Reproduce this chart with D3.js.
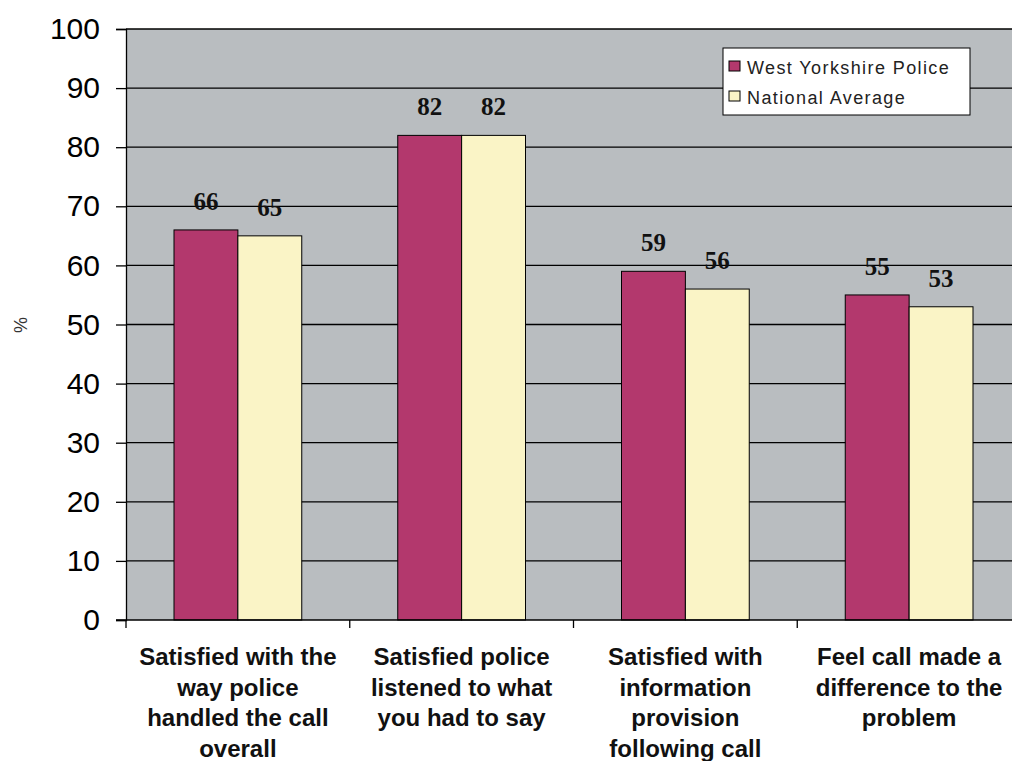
<!DOCTYPE html>
<html>
<head>
<meta charset="utf-8">
<script src="https://cdn.jsdelivr.net/npm/d3@7"></script>
<style>
  body { margin: 0; background: #fff; }
  svg { display: block; }
</style>
</head>
<body>
<div id="chart"></div>
<script>
const categories = [
  ["Satisfied with the", "way police", "handled the call", "overall"],
  ["Satisfied police", "listened to what", "you had to say"],
  ["Satisfied with", "information", "provision", "following call"],
  ["Feel call made a", "difference to the", "problem"]
];
const seriesNames = ["West Yorkshire Police", "National Average"];
const westYorkshire = [66, 82, 59, 55];
const nationalAvg = [65, 82, 56, 53];
const yTicks = [0, 10, 20, 30, 40, 50, 60, 70, 80, 90, 100];

const colors = ["#B3386D", "#FAF4C6"];

const W = 1012, H = 761;
const margin = {top: 29, left: 126, bottom: 141};
const plotW = 895;  // runs a little past the window edge like the original
const plotH = H - margin.top - margin.bottom;

const svg = d3.select("#chart").append("svg")
  .attr("width", W).attr("height", H);

const g = svg.append("g")
  .attr("transform", `translate(${margin.left},${margin.top})`);

const idx = d3.range(categories.length);
const x0 = d3.scaleBand().domain(idx).range([0, plotW]).paddingInner(0).paddingOuter(0);
const x1 = d3.scaleBand().domain([0, 1]).range([48, x0.bandwidth() - 48]);
const y = d3.scaleLinear().domain([0, 100]).range([plotH, 0]);

// plot background
g.append("rect")
  .attr("x", 0).attr("y", 0)
  .attr("width", plotW).attr("height", plotH)
  .attr("fill", "#B9BDC0");

// gridlines
g.selectAll(".grid")
  .data(yTicks.filter(d => d > 0))
  .enter().append("line")
  .attr("x1", 0).attr("x2", plotW)
  .attr("y1", d => y(d)).attr("y2", d => y(d))
  .attr("stroke", "#000").attr("stroke-width", 1.3);

// bars
const rows = idx.map(i => ({i, vals: [westYorkshire[i], nationalAvg[i]]}));
const grp = g.selectAll(".grp")
  .data(rows)
  .enter().append("g")
  .attr("transform", d => `translate(${x0(d.i)},0)`);

grp.selectAll("rect")
  .data(d => d.vals.map((v, s) => ({v, s})))
  .enter().append("rect")
  .attr("x", d => x1(d.s))
  .attr("y", d => y(d.v))
  .attr("width", x1.bandwidth())
  .attr("height", d => plotH - y(d.v))
  .attr("fill", d => colors[d.s])
  .attr("stroke", "#000").attr("stroke-width", 1);

grp.selectAll(".val")
  .data(d => d.vals.map((v, s) => ({v, s})))
  .enter().append("text")
  .attr("x", d => x1(d.s) + x1.bandwidth() / 2)
  .attr("y", d => y(d.v) - 20)
  .attr("text-anchor", "middle")
  .attr("font-family", "'Liberation Serif', 'DejaVu Serif', serif")
  .attr("font-weight", "bold")
  .attr("font-size", "25px")
  .attr("fill", "#111")
  .text(d => d.v);

// y axis
const yAxis = g.append("g")
  .call(d3.axisLeft(y).tickValues(yTicks).tickSize(10).tickPadding(16));
yAxis.select(".domain").attr("stroke", "#000").attr("stroke-width", 1.3);
yAxis.selectAll(".tick line").attr("stroke", "#000").attr("stroke-width", 1.3);
yAxis.selectAll(".tick text")
  .attr("font-family", "'Liberation Sans', Arial, sans-serif")
  .attr("font-size", "30px")
  .attr("fill", "#000");

// x axis
const xAxis = g.append("g")
  .attr("transform", `translate(0,${plotH})`);
xAxis.append("line")
  .attr("x1", -10).attr("x2", plotW)
  .attr("stroke", "#000").attr("stroke-width", 1.3);
xAxis.selectAll(".xt")
  .data(d3.range(categories.length + 1))
  .enter().append("line")
  .attr("x1", d => d * x0.bandwidth()).attr("x2", d => d * x0.bandwidth())
  .attr("y1", 0).attr("y2", 8)
  .attr("stroke", "#000").attr("stroke-width", 1.3);

xAxis.selectAll(".cat")
  .data(idx)
  .enter().append("text")
  .attr("x", d => x0(d) + x0.bandwidth() / 2)
  .attr("y", 45)
  .attr("text-anchor", "middle")
  .attr("font-family", "'Liberation Sans', Arial, sans-serif")
  .attr("font-weight", "bold")
  .attr("font-size", "24px")
  .attr("fill", "#111")
  .each(function(d) {
    d3.select(this).selectAll("tspan")
      .data(categories[d])
      .enter().append("tspan")
      .attr("x", x0(d) + x0.bandwidth() / 2)
      .attr("dy", (t, k) => k === 0 ? 0 : 30.5)
      .text(t => t);
  });

// y label
svg.append("text")
  .attr("transform", "translate(27,325) rotate(-90)")
  .attr("text-anchor", "middle")
  .attr("font-family", "'Liberation Sans', Arial, sans-serif")
  .attr("font-size", "18px")
  .attr("fill", "#333")
  .text("%");

// legend
const legend = svg.append("g").attr("transform", "translate(723,48)");
legend.append("rect")
  .attr("width", 247).attr("height", 67)
  .attr("fill", "#fff").attr("stroke", "#000").attr("stroke-width", 1);
const li = legend.selectAll(".li")
  .data(seriesNames)
  .enter().append("g")
  .attr("transform", (d, i) => `translate(6,${20 + i * 30})`);
li.append("rect")
  .attr("x", 0).attr("y", -7)
  .attr("width", 11).attr("height", 10)
  .attr("fill", (d, i) => colors[i])
  .attr("stroke", "#000").attr("stroke-width", 1);
li.append("text")
  .attr("x", 18).attr("y", 6)
  .attr("font-family", "'Liberation Sans', Arial, sans-serif")
  .attr("font-size", "18px")
  .attr("letter-spacing", "1.4px")
  .attr("fill", "#222")
  .text(d => d);
</script>
</body>
</html>
